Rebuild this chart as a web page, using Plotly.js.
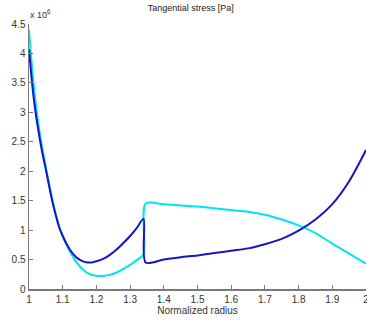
<!DOCTYPE html>
<html>
<head>
<meta charset="utf-8">
<script src="https://cdn.plot.ly/plotly-3.0.1.min.js"></script>
<style>
  html, body { margin: 0; padding: 0; background: #fff; }
  #chart { width: 367px; height: 320px; }
</style>
</head>
<body>
<div id="chart"></div>
<script>
// Normalized radius samples and tangential stress (units of 1e6 Pa)
const radiusA = [1.000, 1.010, 1.020, 1.030, 1.040, 1.050, 1.060, 1.070, 1.080, 1.090,
  1.100, 1.110, 1.120, 1.130, 1.140, 1.150, 1.160, 1.170, 1.180, 1.190, 1.200,
  1.220, 1.240, 1.260, 1.280, 1.300, 1.320, 1.340, 1.346, 1.400, 1.450, 1.500,
  1.550, 1.600, 1.650, 1.700, 1.750, 1.800, 1.850, 1.900, 1.950, 2.000];
const stressA = [4.07, 3.45, 2.98, 2.62, 2.30, 2.03, 1.74, 1.47, 1.24, 1.04,
  0.90, 0.78, 0.68, 0.60, 0.54, 0.50, 0.47, 0.455, 0.45, 0.455, 0.47,
  0.51, 0.58, 0.67, 0.78, 0.90, 1.04, 1.19, 0.45, 0.50, 0.54, 0.57,
  0.61, 0.65, 0.69, 0.76, 0.85, 0.99, 1.18, 1.44, 1.83, 2.36];

const radiusB = [1.000, 1.010, 1.020, 1.030, 1.040, 1.050, 1.060, 1.070, 1.080, 1.090,
  1.100, 1.110, 1.120, 1.130, 1.140, 1.150, 1.160, 1.170, 1.180, 1.190, 1.200,
  1.210, 1.220, 1.240, 1.260, 1.280, 1.300, 1.320, 1.340, 1.346, 1.400, 1.450,
  1.500, 1.550, 1.600, 1.650, 1.700, 1.750, 1.800, 1.850, 1.900, 1.950, 2.000];
const stressB = [4.40, 3.70, 3.15, 2.72, 2.37, 2.07, 1.78, 1.50, 1.26, 1.05,
  0.90, 0.77, 0.65, 0.55, 0.46, 0.39, 0.33, 0.285, 0.255, 0.235, 0.225,
  0.22, 0.222, 0.24, 0.28, 0.34, 0.41, 0.49, 0.59, 1.45, 1.44, 1.42,
  1.40, 1.37, 1.34, 1.31, 1.26, 1.18, 1.08, 0.95, 0.77, 0.60, 0.43];

const xTicks = [1, 1.1, 1.2, 1.3, 1.4, 1.5, 1.6, 1.7, 1.8, 1.9, 2];
const xTickText = ['1', '1.1', '1.2', '1.3', '1.4', '1.5', '1.6', '1.7', '1.8', '1.9', '2'];
const yTicks = [0, 0.5, 1, 1.5, 2, 2.5, 3, 3.5, 4, 4.5];
const yTickText = ['0', '0.5', '1', '1.5', '2', '2.5', '3', '3.5', '4', '4.5'];

// Each profile has a discontinuity at the layer interface: the smooth parts
// are drawn as splines and the jump as a straight segment.
function profileTraces(xs, ys, color) {
  let j = 1;
  while (j < xs.length && xs[j] - xs[j - 1] > 0.01) j++;
  const base = { mode: 'lines', hoverinfo: 'skip' };
  return [
    Object.assign({ x: xs.slice(0, j), y: ys.slice(0, j), line: { color, width: 2, shape: 'spline', smoothing: 0.8 } }, base),
    Object.assign({ x: xs.slice(j - 1, j + 1), y: ys.slice(j - 1, j + 1), line: { color, width: 2 } }, base),
    Object.assign({ x: xs.slice(j), y: ys.slice(j), line: { color, width: 2, shape: 'spline', smoothing: 0.8 } }, base)
  ];
}

const traces = [].concat(
  profileTraces(radiusB, stressB, 'rgb(0,228,235)'),
  profileTraces(radiusA, stressA, 'rgb(20,20,200)')
);

const labelFont = { family: 'Liberation Sans, Arial, sans-serif', size: 10, color: '#333' };

const layout = {
  width: 367, height: 320,
  margin: { l: 29, r: 1, t: 24, b: 31 },
  paper_bgcolor: '#fff', plot_bgcolor: '#fff',
  showlegend: false,
  title: { text: 'Tangential stress [Pa]', x: 0.52, xanchor: 'center', y: 0.975, yanchor: 'middle',
    font: { family: 'Liberation Sans, Arial, sans-serif', size: 9, color: '#222' } },
  xaxis: {
    range: [1, 2], tickvals: xTicks, ticktext: xTickText, ticklabeloverflow: 'allow',
    showgrid: false, zeroline: false, showline: true, linecolor: '#7a7a7a', linewidth: 1.5,
    ticks: 'inside', ticklen: 4, tickcolor: '#7a7a7a', tickfont: labelFont,
    title: { text: 'Normalized radius', standoff: 2, font: labelFont }
  },
  yaxis: {
    range: [0, 4.5], tickvals: yTicks, ticktext: yTickText, ticklabeloverflow: 'allow',
    showgrid: false, zeroline: false, showline: true, linecolor: '#7a7a7a', linewidth: 1.5,
    ticks: 'inside', ticklen: 4, tickcolor: '#7a7a7a', tickfont: labelFont
  },
  annotations: [{
    xref: 'paper', yref: 'paper', x: 0, y: 1, xanchor: 'left', yanchor: 'bottom',
    xshift: -1, yshift: 2, showarrow: false,
    text: 'x 10<sup>6</sup>', font: { family: 'Liberation Sans, Arial, sans-serif', size: 9, color: '#333' }
  }]
};

Plotly.newPlot('chart', traces, layout, { staticPlot: true, displayModeBar: false });
</script>
</body>
</html>
